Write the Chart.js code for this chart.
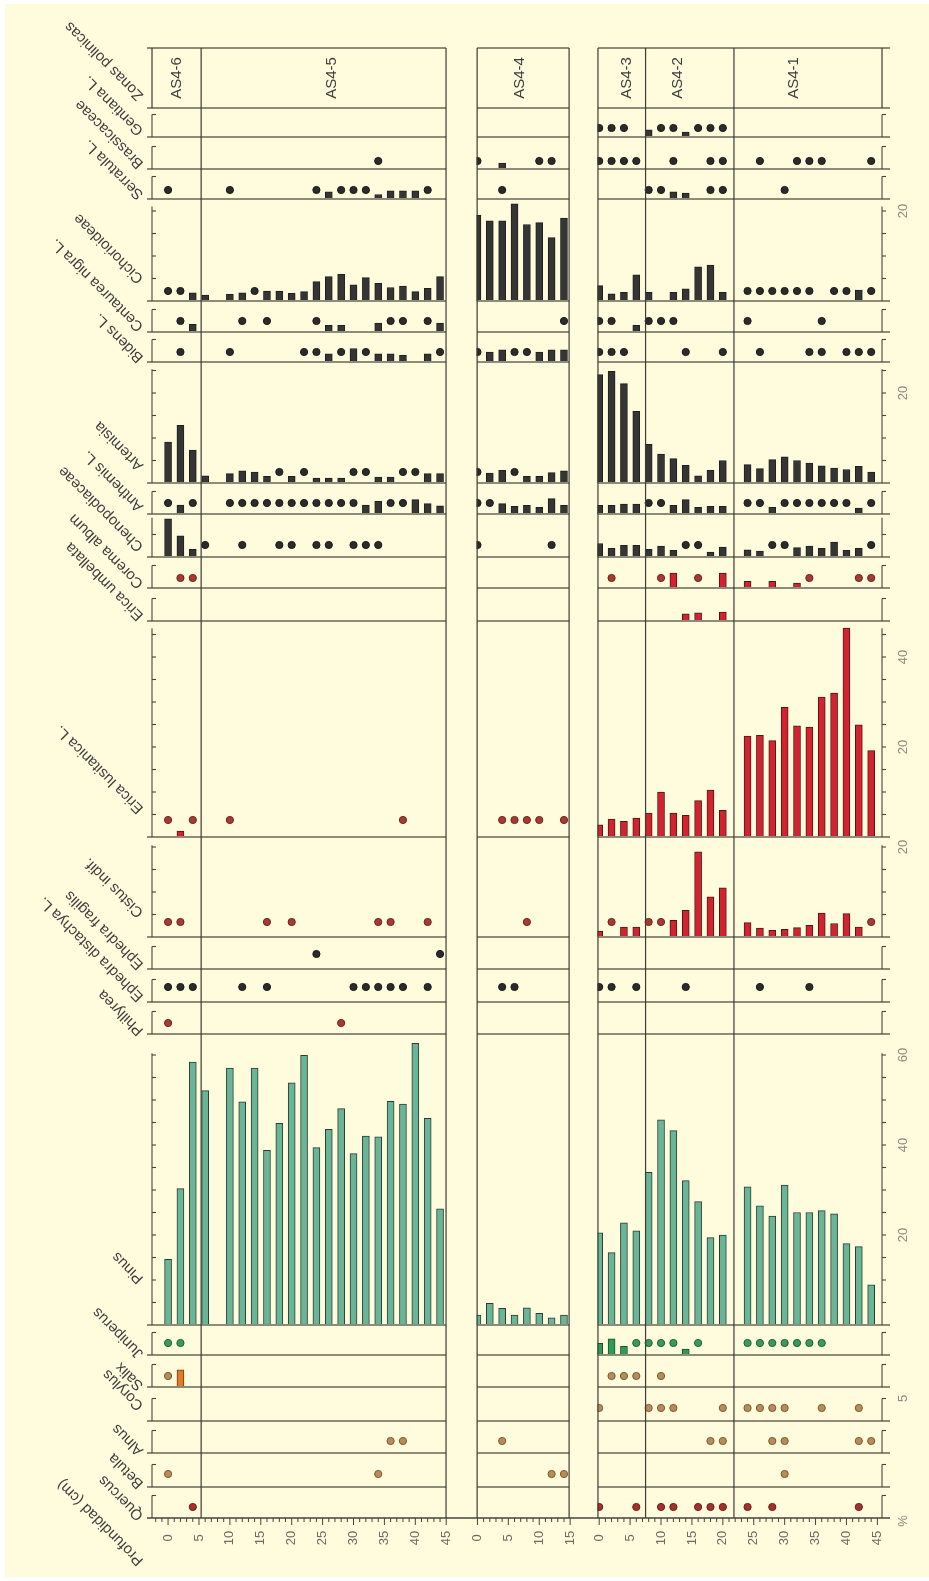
<!DOCTYPE html>
<html>
<head>
<meta charset="utf-8">
<script src="https://cdn.jsdelivr.net/npm/chart.js@4.4.1/dist/chart.umd.min.js"></script>
<style>
  html, body { margin: 0; padding: 0; background: #fff; }
  canvas { display: block; }
</style>
</head>
<body>
<canvas id="pollenChart" width="929" height="1581"></canvas>
<script>
// muestras por sondeo (profundidad en cm)
const depthsA = [0, 2, 4, 6, 10, 12, 14, 16, 18, 20, 22, 24, 26, 28, 30, 32, 34, 36, 38, 40, 42, 44];
const depthsB = [0, 2, 4, 6, 8, 10, 12, 14];
const depthsC = [0, 2, 4, 6, 8, 10, 12, 14, 16, 18, 20, 24, 26, 28, 30, 32, 34, 36, 38, 40, 42, 44];

const depthLabelsA = [0, 5, 10, 15, 20, 25, 30, 35, 40, 45];
const depthLabelsB = [0, 5, 10, 15];
const depthLabelsC = [0, 5, 10, 15, 20, 25, 30, 35, 40, 45];

const zoneNames = ['AS4-6', 'AS4-5', 'AS4-4', 'AS4-3', 'AS4-2', 'AS4-1'];

// porcentajes: 0.5 = presencia (<1 %), dibujada como punto
const gentiana = [
  0, 0, 0, 0, 0, 0, 0, 0, 0, 0, 0, 0, 0, 0, 0, 0, 0, 0, 0, 0, 0, 0,
  0, 0, 0, 0, 0, 0, 0, 0,
  .5, .5, .5, 0, 1.6, .5, .5, 1.1, .5, .5, .5, 0, 0, 0, 0, 0, 0, 0, 0, 0, 0, 0
];
const brassicaceae = [
  0, 0, 0, 0, 0, 0, 0, 0, 0, 0, 0, 0, 0, 0, 0, 0, .5, 0, 0, 0, 0, 0,
  .5, 0, 1.3, 0, 0, .5, .5, 0,
  .5, .5, .5, .5, 0, 0, .5, 0, 0, .5, .5, 0, .5, 0, 0, .5, .5, .5, 0, 0, 0, .5
];
const serratula = [
  .5, 0, 0, 0, .5, 0, 0, 0, 0, 0, 0, .5, 1.6, .5, .5, .5, 1.0, 1.8, 1.8, 1.8, .5, 0,
  0, 0, .5, 0, 0, 0, 0, 0,
  0, 0, 0, 0, .5, .5, 1.6, 1.3, 0, .5, .5, 0, 0, 0, .5, 0, 0, 0, 0, 0, 0, 0
];
const cichorioideae = [
  .5, .5, 1.8, 1.3, 1.5, 1.8, .5, 2.2, 2.2, 1.7, 2.1, 4.3, 5.4, 5.9, 3.6, 5.2, 3.9, 3.0, 3.3, 2.1, 2.8, 5.4,
  19.1, 17.8, 17.8, 21.6, 17.0, 17.4, 14.1, 18.4,
  3.4, 1.6, 1.9, 5.8, 1.9, 0, 1.9, 2.7, 7.6, 8.0, 1.9, .5, .5, .5, .5, .5, .5, 0, .5, .5, 2.4, .5
];
const centaurea = [
  0, .5, 1.7, 0, 0, .5, 0, .5, 0, 0, 0, .5, 1.5, 1.5, 0, 0, 2.0, .5, .5, 0, .5, 2.0,
  0, 0, 0, 0, 0, 0, 0, .5,
  .5, .5, 0, 1.5, .5, .5, .5, 0, 0, 0, 0, .5, 0, 0, 0, 0, 0, .5, 0, 0, 0, 0
];
const bidens = [
  0, .5, 0, 0, .5, 0, 0, 0, 0, 0, .5, .5, 1.8, .5, 3.0, .5, 1.8, 1.8, 1.5, 0, 1.8, .5,
  .5, 2.2, 2.7, .5, .5, 2.2, 2.7, 2.7,
  .5, .5, .5, 0, 0, 0, 0, .5, 0, 0, .5, 0, .5, 0, 0, 0, .5, .5, 0, .5, .5, .5
];
const artemisia = [
  9.1, 12.8, 7.3, 1.6, 2.1, 2.7, 2.4, 1.5, .5, 1.5, .5, 1.1, 1.1, 1.1, .5, .5, 1.3, 1.3, .5, .5, 2.1, 2.1,
  .5, 2.2, 2.8, .5, 1.5, 1.5, 2.3, 2.7,
  24.1, 24.8, 22.1, 15.9, 8.6, 6.4, 5.4, 3.9, 1.6, 2.8, 5.0, 4.1, 3.2, 5.2, 5.8, 5.0, 4.4, 3.8, 3.3, 3.0, 3.7, 2.4
];
const anthemis = [
  .5, 2.0, .5, 0, .5, .5, .5, .5, .5, .5, .5, .5, .5, .5, .5, 2.0, 2.8, .5, .5, 3.2, 2.3, 1.8,
  .5, .5, 2.3, 1.7, 1.9, 1.5, 3.4, 1.9,
  1.9, 1.9, 2.2, 2.2, .5, .5, 1.9, 3.2, 1.5, 1.7, 1.7, .5, .5, 1.5, .5, .5, .5, .5, .5, .5, 1.3, .5
];
const chenopodiaceae = [
  8.5, 4.7, 1.7, .5, 0, .5, 0, 0, .5, .5, 0, .5, .5, 0, .5, .5, .5, 0, 0, 0, 0, 0,
  .5, 0, 0, 0, 0, 0, .5, 0,
  3.0, 1.9, 2.6, 2.6, 1.7, 2.4, 1.5, .5, .5, 1.1, 2.2, 1.6, 1.3, .5, .5, 2.1, 2.4, 1.9, 3.3, 1.5, 1.9, .5
];
const corema = [
  0, .5, .5, 0, 0, 0, 0, 0, 0, 0, 0, 0, 0, 0, 0, 0, 0, 0, 0, 0, 0, 0,
  0, 0, 0, 0, 0, 0, 0, 0,
  0, .5, 0, 0, 0, .5, 3.3, 0, .5, 0, 3.3, 1.5, 0, 1.5, 0, 1.1, .5, 0, 0, 0, .5, .5
];
const ericaUmbellata = [
  0, 0, 0, 0, 0, 0, 0, 0, 0, 0, 0, 0, 0, 0, 0, 0, 0, 0, 0, 0, 0, 0,
  0, 0, 0, 0, 0, 0, 0, 0,
  0, 0, 0, 0, 0, 0, 0, 1.6, 1.8, 0, 2.0, 0, 0, 0, 0, 0, 0, 0, 0, 0, 0, 0
];
const ericaLusitanica = [
  .5, 1.3, .5, 0, .5, 0, 0, 0, 0, 0, 0, 0, 0, 0, 0, 0, 0, 0, .5, 0, 0, 0,
  0, 0, .5, .5, .5, .5, 0, .5,
  2.7, 4.0, 3.5, 4.2, 5.3, 10.0, 5.3, 4.8, 8.1, 10.4, 5.9, 22.4, 22.6, 21.4, 28.8, 24.7, 24.4, 31.1, 32.0, 46.4, 24.9, 19.2
];
const cistus = [
  .5, .5, 0, 0, 0, 0, 0, .5, 0, .5, 0, 0, 0, 0, 0, 0, .5, .5, 0, 0, .5, 0,
  0, 0, 0, 0, .5, 0, 0, 0,
  1.3, .5, 2.2, 2.2, .5, .5, 3.7, 5.9, 18.9, 8.9, 10.9, 3.2, 2.0, 1.5, 1.7, 2.1, 2.6, 5.3, 3.0, 5.2, 2.2, .5
];
const ephedraFragilis = [
  0, 0, 0, 0, 0, 0, 0, 0, 0, 0, 0, .5, 0, 0, 0, 0, 0, 0, 0, 0, 0, .5,
  0, 0, 0, 0, 0, 0, 0, 0,
  0, 0, 0, 0, 0, 0, 0, 0, 0, 0, 0, 0, 0, 0, 0, 0, 0, 0, 0, 0, 0, 0
];
const ephedraDistachya = [
  .5, .5, .5, 0, 0, .5, 0, .5, 0, 0, 0, 0, 0, 0, .5, .5, .5, .5, .5, 0, .5, 0,
  0, 0, .5, .5, 0, 0, 0, 0,
  .5, .5, 0, .5, 0, 0, 0, .5, 0, 0, 0, 0, .5, 0, 0, 0, .5, 0, 0, 0, 0, 0
];
const phillyrea = [
  .5, 0, 0, 0, 0, 0, 0, 0, 0, 0, 0, 0, 0, .5, 0, 0, 0, 0, 0, 0, 0, 0,
  0, 0, 0, 0, 0, 0, 0, 0,
  0, 0, 0, 0, 0, 0, 0, 0, 0, 0, 0, 0, 0, 0, 0, 0, 0, 0, 0, 0, 0, 0
];
const pinus = [
  14.6, 30.3, 58.4, 52.1, 57.1, 49.6, 57.1, 38.8, 44.8, 53.8, 59.9, 39.4, 43.5, 48.1, 38.1, 42.0, 41.8, 49.7, 49.1, 62.6, 45.9, 25.8,
  2.2, 4.8, 3.7, 2.2, 3.8, 2.6, 1.6, 2.2,
  20.5, 16.1, 22.7, 20.9, 33.9, 45.6, 43.2, 32.1, 27.4, 19.4, 20.0, 30.7, 26.5, 24.2, 31.1, 25.0, 25.0, 25.4, 24.7, 18.1, 17.4, 8.9
];
const juniperus = [
  .5, .5, 0, 0, 0, 0, 0, 0, 0, 0, 0, 0, 0, 0, 0, 0, 0, 0, 0, 0, 0, 0,
  0, 0, 0, 0, 0, 0, 0, 0,
  2.6, 3.6, 1.9, .5, .5, .5, .5, 1.3, .5, 0, 0, .5, .5, .5, .5, .5, .5, .5, 0, 0, 0, 0
];
const salix = [
  .5, 3.8, 0, 0, 0, 0, 0, 0, 0, 0, 0, 0, 0, 0, 0, 0, 0, 0, 0, 0, 0, 0,
  0, 0, 0, 0, 0, 0, 0, 0,
  0, .5, .5, .5, 0, .5, 0, 0, 0, 0, 0, 0, 0, 0, 0, 0, 0, 0, 0, 0, 0, 0
];
const corylus = [
  0, 0, 0, 0, 0, 0, 0, 0, 0, 0, 0, 0, 0, 0, 0, 0, 0, 0, 0, 0, 0, 0,
  0, 0, 0, 0, 0, 0, 0, 0,
  .5, 0, 0, 0, .5, .5, .5, 0, 0, 0, .5, .5, .5, .5, .5, 0, 0, .5, 0, 0, .5, 0
];
const alnus = [
  0, 0, 0, 0, 0, 0, 0, 0, 0, 0, 0, 0, 0, 0, 0, 0, 0, .5, .5, 0, 0, 0,
  0, 0, .5, 0, 0, 0, 0, 0,
  0, 0, 0, 0, 0, 0, 0, 0, 0, .5, .5, 0, 0, .5, .5, 0, 0, 0, 0, 0, .5, .5
];
const betula = [
  .5, 0, 0, 0, 0, 0, 0, 0, 0, 0, 0, 0, 0, 0, 0, 0, .5, 0, 0, 0, 0, 0,
  0, 0, 0, 0, 0, 0, .5, .5,
  0, 0, 0, 0, 0, 0, 0, 0, 0, 0, 0, 0, 0, 0, .5, 0, 0, 0, 0, 0, 0, 0
];
const quercus = [
  0, 0, .5, 0, 0, 0, 0, 0, 0, 0, 0, 0, 0, 0, 0, 0, 0, 0, 0, 0, 0, 0,
  0, 0, 0, 0, 0, 0, 0, 0,
  .5, 0, 0, .5, 0, .5, .5, 0, .5, .5, .5, .5, 0, .5, 0, 0, 0, 0, 0, 0, .5, 0
];

// etiquetas de escala (%) a la derecha
const scaleLabels = [['Cichorioideae', [20]], ['Artemisia', [20]], ['Erica lusitanica L.', [20, 40]],
  ['Cistus indif.', [20]], ['Pinus', [20, 40, 60]], ['Corylus', [5]]];

// ---- maquetación ----
const PLOT_TOP = 48, PLOT_BOTTOM = 1518, PX_PER_PCT = 4.5;
const X_MIN = -2.6, X_MAX = 115.5;
const CREAM = 'rgb(255, 251, 221)';
const FONT = '"Liberation Sans", Arial, sans-serif';
const sectionOffsets = [0, 50.05, 69.75];
const sectionSpans = [[-2.6, 44.97], [50.0, 64.88], [69.55, 115.5]];
const tickRanges = [[-2, 45], [0, 15], [0, 45]];
const sectionLabels = [depthLabelsA, depthLabelsB, depthLabelsC];
const zoneBounds = [[0, 5.35], [2, 7.5], [2, 21.8]];
const zoneLabelPos = [[0, 1.5], [0, 26.5], [1, 6.8], [2, 4.5], [2, 12.7], [2, 31.5]];

const styles = {
  herb: { bar: '#353535', edge: '#1f1f1f', dot: '#2b2b2b', dotEdge: '#1a1a1a' },
  heath: { bar: '#d42330', edge: '#4a1818', dot: '#a83a32', dotEdge: '#6a2520' },
  pinus: { bar: '#68b598', edge: '#2e3b34', dot: '#68b598', dotEdge: '#2e3b34' },
  juniper: { bar: '#2f9b57', edge: '#1d4d2c', dot: '#3a9a5a', dotEdge: '#22603a' },
  salix: { bar: '#e27a27', edge: '#6d3a12', dot: '#b88b58', dotEdge: '#7a5a35' },
  tree: { bar: '#b88b58', edge: '#7a5a35', dot: '#b88b58', dotEdge: '#7a5a35' },
  quercus: { bar: '#a8302c', edge: '#6a1e1a', dot: '#a8302c', dotEdge: '#6a1e1a' }
};

const rows = [
  { name: 'Gentiana L.', values: gentiana, bottom: 137, axisMax: 5, lift: 9, labelY: 130, style: 'herb' },
  { name: 'Brassicaceae', values: brassicaceae, bottom: 169, axisMax: 5, lift: 8, labelY: 163, style: 'herb' },
  { name: 'Serratula L.', values: serratula, bottom: 199, axisMax: 5, lift: 9, labelY: 194, style: 'herb' },
  { name: 'Cichorioideae', values: cichorioideae, bottom: 301, axisMax: 21, lift: 10, labelY: 278, style: 'herb' },
  { name: 'Centaurea nigra L.', values: centaurea, bottom: 332, axisMax: 5, lift: 11, labelY: 326, style: 'herb' },
  { name: 'Bidens L.', values: bidens, bottom: 362, axisMax: 5, lift: 10, labelY: 357, style: 'herb' },
  { name: 'Artemisia', values: artemisia, bottom: 483, axisMax: 25.3, lift: 11, labelY: 465, style: 'herb' },
  { name: 'Anthemis L.', values: anthemis, bottom: 514, axisMax: 5, lift: 11, labelY: 506, style: 'herb' },
  { name: 'Chenopodiaceae', values: chenopodiaceae, bottom: 557, axisMax: 8.7, lift: 12, labelY: 546, style: 'herb' },
  { name: 'Corema album', values: corema, bottom: 588, axisMax: 5, lift: 10, labelY: 583, style: 'heath' },
  { name: 'Erica umbellata', values: ericaUmbellata, bottom: 621, axisMax: 5, lift: 10, labelY: 615, style: 'heath' },
  { name: 'Erica lusitanica L.', values: ericaLusitanica, bottom: 837, axisMax: 46.4, lift: 17, labelY: 808, style: 'heath' },
  { name: 'Cistus indif.', values: cistus, bottom: 937, axisMax: 20.4, lift: 15, labelY: 912, style: 'heath' },
  { name: 'Ephedra fragilis', values: ephedraFragilis, bottom: 969, axisMax: 5, lift: 15, labelY: 964, style: 'herb' },
  { name: 'Ephedra distachya L.', values: ephedraDistachya, bottom: 1002, axisMax: 5, lift: 15, labelY: 996, style: 'herb' },
  { name: 'Phillyrea', values: phillyrea, bottom: 1034, axisMax: 5, lift: 11, labelY: 1030, style: 'heath' },
  { name: 'Pinus', values: pinus, bottom: 1325, axisMax: 60.4, lift: 10, labelY: 1278, style: 'pinus' },
  { name: 'Juniperus', values: juniperus, bottom: 1355, axisMax: 5, lift: 12, labelY: 1353, style: 'juniper' },
  { name: 'Salix', values: salix, bottom: 1387, axisMax: 5, lift: 11, labelY: 1385, style: 'salix' },
  { name: 'Corylus', values: corylus, bottom: 1421, axisMax: 5, lift: 13, labelY: 1405, style: 'tree' },
  { name: 'Alnus', values: alnus, bottom: 1453, axisMax: 5, lift: 12, labelY: 1450, style: 'tree' },
  { name: 'Betula', values: betula, bottom: 1487, axisMax: 5, lift: 13, labelY: 1483, style: 'tree' },
  { name: 'Quercus', values: quercus, bottom: 1518, axisMax: 5, lift: 11, labelY: 1515, style: 'quercus' }
];
const ZONE_ROW = { top: 48, bottom: 108, labelY: 95 };

const samples = [];
[depthsA, depthsB, depthsC].forEach((list, s) => {
  list.forEach(d => samples.push(sectionOffsets[s] + d));
});

function rowBase(row) {
  return (PLOT_BOTTOM - row.bottom) / PX_PER_PCT;
}

function buildDatasets() {
  const sets = [];
  rows.forEach(row => {
    const st = styles[row.style];
    const base = rowBase(row);
    const bars = [], dots = [];
    row.values.forEach((v, i) => {
      if (!v) return;
      if (v < 1) dots.push({ x: samples[i], y: base + row.lift / PX_PER_PCT });
      else bars.push({ x: samples[i], y: [base, base + v] });
    });
    sets.push({
      type: 'bar', label: row.name, data: bars,
      backgroundColor: st.bar, borderColor: st.edge, borderWidth: 1,
      barThickness: 7, grouped: false
    });
    sets.push({
      type: 'line', label: row.name + ' (<1%)', data: dots, showLine: false,
      pointRadius: 3.6, pointBackgroundColor: st.dot, pointBorderColor: st.dotEdge,
      pointBorderWidth: 1, pointHoverRadius: 3.6
    });
  });
  return sets;
}

function rotatedText(ctx, text, x, y, angle, align, baseline) {
  ctx.save();
  ctx.translate(x, y);
  ctx.rotate(angle);
  ctx.textAlign = align;
  ctx.textBaseline = baseline;
  ctx.fillText(text, 0, 0);
  ctx.restore();
}

function line(ctx, x0, y0, x1, y1) {
  ctx.beginPath();
  ctx.moveTo(x0, y0);
  ctx.lineTo(x1, y1);
  ctx.stroke();
}

const diagramPlugin = {
  id: 'diagram',
  beforeDraw(chart) {
    const { ctx, width, height } = chart;
    ctx.save();
    ctx.fillStyle = '#ffffff';
    ctx.fillRect(0, 0, width, height);
    ctx.fillStyle = CREAM;
    ctx.fillRect(5, 4, width - 5, height - 8);
    ctx.restore();
  },
  afterDatasetsDraw(chart) {
    const { ctx, chartArea } = chart;
    const xs = chart.scales.x, ys = chart.scales.y;
    const xp = u => xs.getPixelForValue(u);
    const yp = v => ys.getPixelForValue(v);
    ctx.save();

    // huecos entre sondeos
    ctx.fillStyle = CREAM;
    for (let s = 0; s < 2; s++) {
      const a = xp(sectionSpans[s][1]) + 0.6, b = xp(sectionSpans[s + 1][0]) - 0.6;
      ctx.fillRect(a, chartArea.top - 3, b - a, chartArea.bottom - chartArea.top + 2);
    }

    // líneas base de cada fila
    ctx.strokeStyle = '#8c8c78';
    ctx.lineWidth = 2;
    const rowLines = [ZONE_ROW.top, ZONE_ROW.bottom].concat(rows.slice(0, -1).map(r => r.bottom));
    rowLines.forEach(y => {
      sectionSpans.forEach((span, s) => {
        const x0 = xp(span[0]) - (s === 0 ? 5 : 0);
        const x1 = xp(span[1]) + (s === 2 ? 8 : 0);
        line(ctx, x0, y, x1, y);
      });
    });

    // límites de sondeos y de zonas
    ctx.strokeStyle = '#3c3c34';
    ctx.lineWidth = 1.2;
    const verticals = [xp(sectionSpans[0][1]), xp(sectionSpans[1][0]), xp(sectionSpans[1][1]), xp(sectionSpans[2][0])];
    zoneBounds.forEach(([s, d]) => verticals.push(xp(sectionOffsets[s] + d)));
    verticals.forEach(x => line(ctx, x, chartArea.top, x, chartArea.bottom));
    [chartArea.left, chartArea.right].forEach(x => line(ctx, x, ZONE_ROW.top, x, ZONE_ROW.bottom));

    // ejes de porcentaje por fila
    ctx.strokeStyle = '#44443c';
    ctx.lineWidth = 1.1;
    rows.forEach(row => {
      const base = rowBase(row);
      [chartArea.left, chartArea.right].forEach(x => {
        line(ctx, x, yp(base), x, yp(base + row.axisMax));
        for (let t = 5; t <= row.axisMax + 0.01; t += 5) {
          line(ctx, x, yp(base + t), x + 4, yp(base + t));
        }
      });
    });

    // eje de profundidad
    ctx.strokeStyle = '#44443c';
    ctx.lineWidth = 1.5;
    line(ctx, chartArea.left - 5, chartArea.bottom, chartArea.right + 8, chartArea.bottom);
    ctx.lineWidth = 1;
    ctx.fillStyle = '#6b6b63';
    ctx.font = '13px ' + FONT;
    tickRanges.forEach(([a, b], s) => {
      for (let d = a; d <= b; d++) {
        const x = xp(sectionOffsets[s] + d);
        const major = d % 5 === 0;
        line(ctx, x, chartArea.bottom, x, chartArea.bottom + (major ? 7 : 4));
      }
      sectionLabels[s].forEach(d => {
        rotatedText(ctx, String(d), xp(sectionOffsets[s] + d), 1538, -Math.PI / 2, 'center', 'middle');
      });
    });

    // etiquetas de escala a la derecha
    ctx.fillStyle = '#8a8a80';
    scaleLabels.forEach(([name, vals]) => {
      const row = rows.find(r => r.name === name);
      vals.forEach(v => {
        rotatedText(ctx, String(v), chartArea.right + 21, yp(rowBase(row) + v), -Math.PI / 2, 'center', 'middle');
      });
    });
    rotatedText(ctx, '%', chartArea.right + 21, chartArea.bottom + 3, -Math.PI / 2, 'center', 'middle');

    // zonas polínicas
    ctx.fillStyle = '#3d3d3d';
    ctx.font = '15px ' + FONT;
    zoneLabelPos.forEach(([s, d], i) => {
      rotatedText(ctx, zoneNames[i], xp(sectionOffsets[s] + d), 78, -Math.PI / 2, 'center', 'middle');
    });

    // nombres de taxones
    const ang = -3 * Math.PI / 4;
    const lx = chartArea.left - 8;
    rotatedText(ctx, 'Zonas polinicas', lx, ZONE_ROW.labelY, ang, 'left', 'alphabetic');
    rows.forEach(row => rotatedText(ctx, row.name, lx, row.labelY, ang, 'left', 'alphabetic'));
    rotatedText(ctx, 'Profundidad (cm)', lx, 1560, ang, 'left', 'alphabetic');

    ctx.restore();
  }
};

new Chart(document.getElementById('pollenChart'), {
  type: 'bar',
  data: { datasets: buildDatasets() },
  options: {
    responsive: false,
    devicePixelRatio: 1,
    animation: false,
    layout: { padding: { left: 152, top: PLOT_TOP, right: 929 - 882, bottom: 1581 - PLOT_BOTTOM } },
    plugins: { legend: { display: false }, tooltip: { enabled: false } },
    scales: {
      x: { type: 'linear', min: X_MIN, max: X_MAX, offset: false, display: false },
      y: { type: 'linear', min: 0, max: (PLOT_BOTTOM - PLOT_TOP) / PX_PER_PCT, display: false }
    }
  },
  plugins: [diagramPlugin]
});
</script>
</body>
</html>
